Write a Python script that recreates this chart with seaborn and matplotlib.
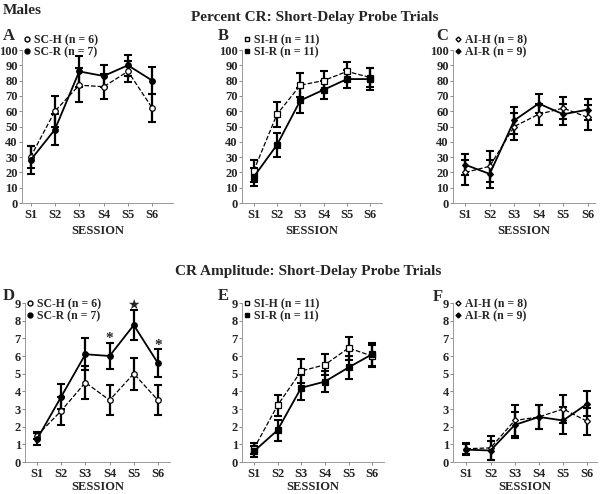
import numpy as np
import pandas as pd
import seaborn as sns
import matplotlib
matplotlib.use("Agg")
import matplotlib.pyplot as plt
from matplotlib.lines import Line2D

# Dados
sessoes = ["S1", "S2", "S3", "S4", "S5", "S6"]

# Percent CR
sc_h_pct = [30, 60, 77, 76, 86, 62]
sc_h_pct_err = [7, 10, 11, 8, 7, 9]
sc_r_pct = [28, 48, 86, 83, 90, 80]
sc_r_pct_err = [9, 10, 10, 7, 7, 9]

si_h_pct = [21, 58, 77, 80, 86, 82]
si_h_pct_err = [7, 8, 8, 6, 6, 6]
si_r_pct = [17, 38, 67, 74, 81, 81]
si_r_pct_err = [6, 8, 8, 6, 6, 7]

ai_h_pct = [20, 24, 50, 58, 62, 56]
ai_h_pct_err = [8, 10, 9, 7, 7, 8]
ai_r_pct = [25, 19, 54, 65, 58, 61]
ai_r_pct_err = [7, 9, 9, 6, 7, 7]

# CR Amplitude
sc_h_amp = [1.5, 2.9, 4.5, 3.5, 5.0, 3.5]
sc_h_amp_err = [0.2, 0.8, 0.95, 0.85, 0.9, 0.85]
sc_r_amp = [1.3, 3.7, 6.1, 6.0, 7.75, 5.6]
sc_r_amp_err = [0.35, 0.7, 0.9, 0.75, 0.85, 0.8]

si_h_amp = [0.75, 3.2, 5.15, 5.5, 6.45, 6.0]
si_h_amp_err = [0.3, 0.6, 0.7, 0.6, 0.65, 0.6]
si_r_amp = [0.6, 1.8, 4.2, 4.55, 5.35, 6.1]
si_r_amp_err = [0.3, 0.6, 0.7, 0.6, 0.65, 0.65]

ai_h_amp = [0.75, 0.8, 2.35, 2.55, 3.0, 2.3]
ai_h_amp_err = [0.3, 0.7, 0.85, 0.7, 0.8, 0.75]
ai_r_amp = [0.7, 0.65, 2.1, 2.55, 2.35, 3.3]
ai_r_amp_err = [0.3, 0.55, 0.75, 0.7, 0.75, 0.7]

# asteriscos no painel D
sig_sessoes = ["S4", "S5", "S6"]
sig_simbolos = ["*", "\u2605", "*"]
sig_alturas = [7.0, 8.85, 6.6]

sns.set_style("ticks")
plt.rcParams["font.family"] = ["Liberation Serif", "DejaVu Sans"]
plt.rcParams["font.weight"] = "bold"

fig = plt.figure(figsize=(6, 4.94), dpi=100)
W, H = 600, 494

def eixo(l, r, t, b):
    return fig.add_axes([l / W, 1 - b / H, (r - l) / W, (b - t) / H])

paineis = [
    # letra, eixo(px), grupos, marcador, ylim, passo, pos. letra, xlim
    ("A", (22, 173, 50, 203), ("SC-H (n = 6)", sc_h_pct, sc_h_pct_err), ("SC-R (n = 7)", sc_r_pct, sc_r_pct_err), "o", 100, 10, (3, 36), (-0.35, 5.85)),
    ("B", (242, 382, 50, 203), ("SI-H (n = 11)", si_h_pct, si_h_pct_err), ("SI-R (n = 11)", si_r_pct, si_r_pct_err), "s", 100, 10, (218, 36), (-0.5, 5.5)),
    ("C", (453, 595, 50, 203), ("AI-H (n = 8)", ai_h_pct, ai_h_pct_err), ("AI-R (n = 9)", ai_r_pct, ai_r_pct_err), "D", 100, 10, (436, 36), (-0.5, 5.3)),
    ("D", (25, 170, 303, 462), ("SC-H (n = 6)", sc_h_amp, sc_h_amp_err), ("SC-R (n = 7)", sc_r_amp, sc_r_amp_err), "o", 9, 1, (3, 296), (-0.5, 5.5)),
    ("E", (242, 384, 303, 462), ("SI-H (n = 11)", si_h_amp, si_h_amp_err), ("SI-R (n = 11)", si_r_amp, si_r_amp_err), "s", 9, 1, (218, 296), (-0.5, 5.5)),
    ("F", (453, 597, 303, 462), ("AI-H (n = 8)", ai_h_amp, ai_h_amp_err), ("AI-R (n = 9)", ai_r_amp, ai_r_amp_err), "D", 9, 1, (433, 297), (-0.55, 5.4)),
]

eixos = {}
for letra, pos, grupo_h, grupo_r, marc, ymax, passo, lpos, xlim in paineis:
    ax = eixo(*pos)
    eixos[letra] = ax
    ms = 4 if marc != "D" else 3
    handles = []
    for (nome, vals, errs), ls, fc, lw in [(grupo_h, "--", "white", 0.9), (grupo_r, "-", "black", 1.3)]:
        ax.errorbar(sessoes, vals, yerr=errs, fmt="none", ecolor="black",
                    elinewidth=1.6, capsize=3, capthick=1.5, zorder=2)
        sns.lineplot(x=sessoes, y=vals, ax=ax, color="black", linestyle=ls, linewidth=lw,
                     marker=marc, markersize=ms, markerfacecolor=fc,
                     markeredgecolor="black", markeredgewidth=0.9, sort=False, zorder=3)
        handles.append(Line2D([], [], linestyle="none", marker=marc, markersize=ms - 0.5,
                              markerfacecolor=fc, markeredgecolor="black", label=nome))
    ax.set_xlim(*xlim)
    ax.set_ylim(0, ymax)
    ax.set_yticks(np.arange(0, ymax + passo / 2, passo))
    ax.set_xlabel("SESSION", fontsize=9, fontweight="bold", labelpad=3 if ymax == 100 else 1)
    ax.set_ylabel("")
    ax.tick_params(axis="both", labelsize=9, length=2, width=0.6, pad=1, color="#777777")
    ax.tick_params(axis="x", pad=2)
    for lab in ax.get_xticklabels() + ax.get_yticklabels():
        lab.set_fontweight("bold")
    sns.despine(ax=ax)
    for s in ["left", "bottom"]:
        ax.spines[s].set_color("#999999")
        ax.spines[s].set_linewidth(0.7)
    leg_y = 1 + (pos[2] - 34) / (pos[3] - pos[2]) if ymax == 100 else 1 + (pos[2] - 298) / (pos[3] - pos[2])
    ax.legend(handles=handles, loc="upper left", bbox_to_anchor=(0.01, leg_y), frameon=False,
              handlelength=0.6, handletextpad=0.3, labelspacing=0.05,
              borderpad=0, borderaxespad=0, prop={"weight": "bold", "size": 8.5})
    fig.text(lpos[0] / W, 1 - lpos[1] / H, letra, fontsize=12, fontweight="bold", va="center", ha="left")

for s, simb, alt in zip(sig_sessoes, sig_simbolos, sig_alturas):
    eixos["D"].text(s, alt, simb, ha="center", va="center", fontsize=11 if simb == "*" else 10,
                    fontweight="bold")

fig.text(3 / W, 1 - 10 / H, "Males", fontsize=11, fontweight="bold", va="center", ha="left")
fig.text(315 / W, 1 - 17 / H, "Percent CR: Short-Delay Probe Trials", fontsize=11,
         fontweight="bold", va="center", ha="center")
fig.text(308 / W, 1 - 272 / H, "CR Amplitude: Short-Delay Probe Trials", fontsize=11,
         fontweight="bold", va="center", ha="center")

fig.savefig("out.png", dpi=100)
